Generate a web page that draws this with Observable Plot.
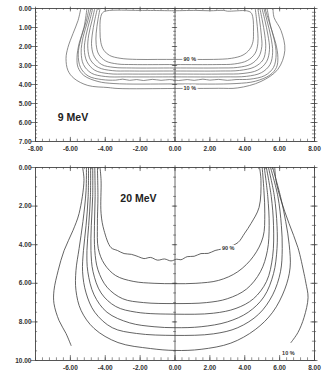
<!DOCTYPE html>
<html>
<head>
<meta charset="utf-8">
<script src="https://cdn.jsdelivr.net/npm/d3@7"></script>
<script src="https://cdn.jsdelivr.net/npm/@observablehq/plot@0.6"></script>
<style>
  html, body { margin: 0; padding: 0; background: #fff; }
  #wrap { width: 329px; height: 371px; overflow: hidden; }
  #wrap svg { display: block; }
</style>
</head>
<body>
<div id="wrap"></div>
<script>
// ---------- 9 MeV isodose contours: [lateral position (cm), depth (cm)] ----------
const levels9 = [90, 80, 70, 60, 50, 40, 30, 20, 10];
const c9_90 = [[0,0.12],[-2,0.1],[-3.9,0.12],[-4.15,0.22],[-4.27,0.5],[-4.3,1.2],[-4.25,1.8],[-4.08,2.2],[-3.75,2.47],[-3.15,2.62],[-2.2,2.68],[-1,2.68],[0,2.68],[1,2.68],[2.2,2.68],[3.25,2.62],[3.9,2.45],[4.28,2.15],[4.47,1.75],[4.5,1.2],[4.47,0.5],[4.36,0.22],[4.1,0.12],[3.0,0.14],[2.8,0.1],[2.0,0.12],[1.2,0.1],[0,0.12]];
const c9_80 = [[-4.3,0],[-4.42,0.6],[-4.52,1.3],[-4.52,1.9],[-4.38,2.4],[-3.98,2.76],[-3.3,2.92],[-2.4,2.95],[0,2.95],[2.4,2.95],[3.4,2.92],[4.15,2.74],[4.6,2.35],[4.75,1.85],[4.75,1.3],[4.68,0.6],[4.6,0]];
const c9_70 = [[-4.45,0],[-4.6,0.6],[-4.75,1.4],[-4.78,2.0],[-4.62,2.55],[-4.2,2.95],[-3.5,3.1],[-2.5,3.13],[0,3.13],[2.5,3.13],[3.6,3.1],[4.35,2.93],[4.8,2.55],[4.98,2.0],[4.95,1.4],[4.85,0.6],[4.75,0]];
const c9_60 = [[-4.6,0],[-4.75,0.6],[-4.95,1.4],[-5.0,2.1],[-4.85,2.7],[-4.4,3.1],[-3.6,3.27],[-2.6,3.29],[0,3.29],[2.6,3.29],[3.7,3.26],[4.55,3.08],[5.05,2.7],[5.2,2.1],[5.15,1.4],[5.0,0.6],[4.87,0]];
const c9_50 = [[-4.72,0],[-4.88,0.6],[-5.1,1.4],[-5.2,2.15],[-5.05,2.8],[-4.6,3.25],[-3.8,3.43],[-2.7,3.45],[0,3.45],[2.7,3.45],[3.9,3.42],[4.75,3.24],[5.25,2.8],[5.42,2.15],[5.33,1.4],[5.15,0.6],[4.99,0]];
const c9_40 = [[-4.82,0],[-5.0,0.65],[-5.27,1.5],[-5.38,2.3],[-5.25,2.95],[-4.8,3.4],[-4.0,3.58],[-2.8,3.6],[0,3.6],[2.8,3.6],[4.1,3.57],[4.95,3.38],[5.45,2.95],[5.6,2.3],[5.5,1.5],[5.28,0.65],[5.1,0]];
const c9_30 = [[-4.93,0],[-5.1,0.7],[-5.4,1.6],[-5.55,2.4],[-5.42,3.1],[-4.98,3.55],[-4.2,3.74],[-3.4,3.77],[-3.0,3.72],[-2.6,3.78],[-2.2,3.74],[-1.8,3.79],[-1.3,3.73],[-0.8,3.78],[-0.3,3.74],[0.2,3.79],[0.7,3.74],[1.1,3.78],[1.6,3.72],[2.0,3.77],[2.5,3.73],[3.0,3.78],[3.5,3.74],[4.3,3.72],[5.15,3.53],[5.65,3.1],[5.8,2.4],[5.68,1.6],[5.4,0.7],[5.16,0]];
const c9_20 = [[-5.05,0],[-5.22,1.0],[-5.5,1.84],[-5.62,2.58],[-5.56,3.1],[-5.22,3.53],[-4.42,3.84],[-3.5,3.95],[0,3.97],[3.5,3.95],[4.6,3.83],[5.45,3.5],[5.82,3.1],[5.9,2.58],[5.78,1.84],[5.5,1.0],[5.28,0]];
const c9_10 = [[-5.4,0],[-5.56,0.63],[-5.85,1.32],[-6.14,2.05],[-6.25,2.63],[-6.14,3.26],[-5.79,3.68],[-5.0,4.05],[-3.84,4.16],[-3.27,4.21],[0,4.21],[2.5,4.2],[3.6,4.18],[4.93,3.84],[5.9,3.2],[6.3,2.2],[6.08,1.16],[5.68,0.47],[5.62,0]];
const contours9 = [c9_90, c9_80, c9_70, c9_60, c9_50, c9_40, c9_30, c9_20, c9_10];

// ---------- 20 MeV isodose contours ----------
const levels20 = [90, 80, 70, 60, 50, 40, 30, 10, 10];
const c20_90 = [[-4.3,0],[-4.24,0.67],[-4.24,2.38],[-4.07,3.26],[-3.67,4.15],[-3.3,4.3],[-2.92,4.46],[-2.5,4.5],[-2.1,4.62],[-1.78,4.72],[-1.4,4.66],[-1.0,4.8],[-0.6,4.74],[-0.23,4.84],[0.1,4.75],[0.34,4.78],[0.7,4.62],[1.1,4.6],[1.49,4.46],[1.9,4.45],[2.3,4.3],[2.7,4.22],[3.1,4.1],[3.61,3.89],[4.0,3.4],[4.36,2.9],[4.82,2.07],[4.93,0.67],[4.85,0]];
const c20_80 = [[-4.45,0],[-4.42,1.5],[-4.45,3.0],[-4.4,4.2],[-4.05,5.0],[-3.4,5.6],[-2.4,5.9],[-1.2,6.0],[0,6.02],[1.2,6.0],[2.5,5.85],[3.6,5.4],[4.5,4.6],[5.05,3.6],[5.15,2.4],[5.1,1.2],[5.0,0]];
const c20_70 = [[-4.6,0],[-4.58,1.5],[-4.62,3.0],[-4.6,4.3],[-4.42,5.3],[-3.9,6.2],[-3.0,6.8],[-1.8,7.0],[0,7.05],[1.8,7.0],[3.0,6.8],[4.1,6.3],[4.9,5.4],[5.3,4.3],[5.4,3.0],[5.32,1.5],[5.12,0]];
const c20_60 = [[-4.72,0],[-4.72,1.5],[-4.8,3.0],[-4.82,4.3],[-4.7,5.4],[-4.24,6.5],[-3.4,7.2],[-2.2,7.5],[0,7.6],[2.2,7.55],[3.5,7.3],[4.5,6.8],[5.25,5.9],[5.6,4.6],[5.65,3.0],[5.52,1.5],[5.24,0]];
const c20_50 = [[-4.84,0],[-4.85,1.5],[-4.95,3.0],[-5.05,4.3],[-5.0,5.4],[-4.64,6.6],[-3.9,7.5],[-2.6,8.05],[-1.2,8.25],[0,8.3],[1.5,8.25],[3.0,8.0],[4.2,7.5],[5.1,6.7],[5.65,5.5],[5.85,4.2],[5.85,3.0],[5.7,1.5],[5.36,0]];
const c20_40 = [[-4.96,0],[-4.98,1.5],[-5.1,3.0],[-5.25,4.3],[-5.3,5.4],[-5.1,6.5],[-4.6,7.5],[-3.6,8.3],[-2.2,8.6],[0,8.7],[2.2,8.62],[3.6,8.3],[4.8,7.6],[5.6,6.6],[6.05,5.4],[6.15,4.2],[6.1,3.0],[5.9,1.5],[5.48,0]];
const c20_30 = [[-5.08,0],[-5.1,1.2],[-5.28,2.8],[-5.5,4.2],[-5.68,5.34],[-5.68,6.37],[-5.39,7.4],[-4.64,8.34],[-3.27,9.07],[-1.4,9.38],[0,9.48],[1.5,9.42],[3.2,9.1],[4.6,8.4],[5.6,7.5],[6.3,6.3],[6.6,5.2],[6.55,4.0],[6.35,2.8],[6.05,1.5],[5.6,0]];
const c20_10L = [[-5.3,0],[-5.22,0.67],[-5.5,2.38],[-5.85,3.26],[-6.36,4.3],[-6.7,5.34],[-6.94,6.37],[-6.94,7.05],[-6.65,7.93],[-6.25,8.6],[-5.96,9.22]];
const c20_10R = [[5.72,0],[5.79,0.67],[6.08,1.7],[6.54,2.9],[7.05,4.15],[7.4,5.5],[7.51,6.0],[7.63,6.74],[7.4,7.77],[7.05,8.55],[6.65,9.07]];
const contours20 = [c20_90, c20_80, c20_70, c20_60, c20_50, c20_40, c20_30, c20_10L, c20_10R];

// ---------- tick values and labels ----------
const xMajor9 = [-8, -6, -4, -2, 0, 2, 4, 6, 8];
const xMajor20 = [-6, -4, -2, 0, 2, 4, 6, 8];
const yMajor9 = [0, 1, 2, 3, 4, 5, 6, 7];
const yMajor20 = [0, 2, 4, 6, 8, 10];
const titles = ["9 MeV", "20 MeV"];
const titleAt = [[-5.85, 5.74], [-2.1, 1.6]];
const pctText9 = ["90 %", "10 %"];
const pctAt9 = [[0.85, 2.68], [0.85, 4.21]];
const pctText20 = ["90 %", "10 %"];
const pctAt20 = [[3.05, 4.2], [6.5, 9.6]];

const FONT = "'Liberation Sans Narrow', 'Arial Narrow', 'Liberation Sans', Arial, sans-serif";

function rows(contours, levels) {
  const out = [];
  contours.forEach((pts, i) => pts.forEach(([x, y]) => out.push({x, y, k: i, level: levels[i]})));
  return out;
}
function range(a, b, step) { // tick positions
  const n = Math.round((b - a) / step);
  return d3.range(n + 1).map(i => +(a + i * step).toFixed(4));
}

function panel({contours, levels, yMax, xLabels, yLabels, yMinorStep, height, mt, mb, title, tAt, pTxt, pAt, yTickLen, line, lineW}) {
  const xMinor = range(-8, 8, 0.4);
  const yMinor = range(0, yMax, yMinorStep);
  const AX = "#444";
  return Plot.plot({
    width: 329, height,
    marginLeft: 35, marginRight: 15, marginTop: mt, marginBottom: mb,
    x: {domain: [-8, 8]},
    y: {domain: [0, yMax], reverse: true},
    style: {fontFamily: FONT, fontSize: "6.5px", fontWeight: "bold", color: "#333", background: "#fff", overflow: "visible"},
    marks: [
      Plot.frame({stroke: AX, strokeWidth: 0.9}),
      Plot.ruleX([0], {stroke: AX, strokeWidth: 0.8}),
      // minor and major x ticks on bottom and top edges
      Plot.ruleX(xMinor, {x: d => d, y1: yMax, y2: yMax - yTickLen, stroke: AX, strokeWidth: 0.6}),
      Plot.ruleX(xMinor, {x: d => d, y1: 0, y2: yTickLen * 0.8, stroke: AX, strokeWidth: 0.6}),
      Plot.ruleX(xLabels, {x: d => d, y1: yMax, y2: yMax - yTickLen * 1.8, stroke: AX, strokeWidth: 0.7}),
      Plot.ruleX(xLabels, {x: d => d, y1: -yTickLen * 0.6, y2: yTickLen * 1.5, stroke: AX, strokeWidth: 0.7}),
      // y ticks on left, right and centre line
      Plot.ruleY(yMinor, {y: d => d, x1: -8, x2: -7.88, stroke: AX, strokeWidth: 0.6}),
      Plot.ruleY(yLabels, {y: d => d, x1: -8.25, x2: -7.85, stroke: AX, strokeWidth: 0.7}),
      Plot.ruleY(yMinor, {y: d => d, x1: 7.88, x2: 8.12, stroke: AX, strokeWidth: 0.6}),
      Plot.ruleY(yLabels, {y: d => d, x1: 7.8, x2: 8.2, stroke: AX, strokeWidth: 0.7}),
      Plot.ruleY(yMinor, {y: d => d, x1: -0.08, x2: 0.08, stroke: AX, strokeWidth: 0.6}),
      Plot.ruleY(yLabels, {y: d => d, x1: -0.15, x2: 0.15, stroke: AX, strokeWidth: 0.7}),
      // contours
      Plot.line(rows(contours, levels), {x: "x", y: "y", z: "k", curve: "catmull-rom", stroke: line, strokeWidth: lineW}),
      // percentage labels with white halo to cut the line
      Plot.text(pTxt, {x: (d, i) => pAt[i][0], y: (d, i) => pAt[i][1], text: d => d, fontSize: 5.5, fill: "#333", stroke: "#fff", strokeWidth: 3, paintOrder: "stroke"}),
      // panel title
      Plot.text([title], {x: () => tAt[0], y: () => tAt[1], text: d => d, fontSize: 10.5, fontFamily: "'Liberation Sans', Arial, sans-serif", fontWeight: "bold", fill: "#222"}),
      // axes labels
      Plot.axisX(xLabels, {anchor: "bottom", tickSize: 0, tickPadding: 5, tickFormat: d => d.toFixed(2), label: null}),
      Plot.axisY(yLabels, {anchor: "left", tickSize: 0, tickPadding: 4, tickFormat: d => d.toFixed(2), label: null})
    ]
  });
}

const wrap = document.getElementById("wrap");
wrap.appendChild(panel({contours: contours9, levels: levels9, yMax: 7, xLabels: xMajor9, yLabels: yMajor9, yMinorStep: 0.2,
  height: 155, mt: 8, mb: 14, title: titles[0], tAt: titleAt[0], pTxt: pctText9, pAt: pctAt9, yTickLen: 0.12, line: "#666", lineW: 0.75}));
wrap.appendChild(panel({contours: contours20, levels: levels20, yMax: 10, xLabels: xMajor20, yLabels: yMajor20, yMinorStep: 0.5,
  height: 216, mt: 12, mb: 11, title: titles[1], tAt: titleAt[1], pTxt: pctText20, pAt: pctAt20, yTickLen: 0.14, line: "#3c3c3c", lineW: 0.8}));
</script>
</body>
</html>
